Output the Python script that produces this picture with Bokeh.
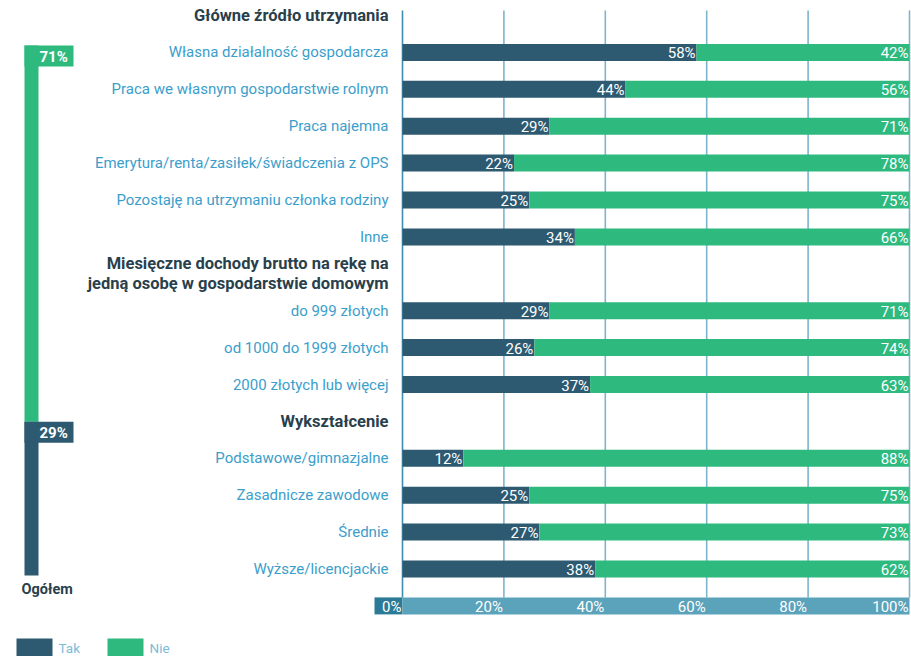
from bokeh.plotting import figure
from bokeh.models import Range1d
from bokeh.core.properties import value
from bokeh.embed import file_html
from bokeh.resources import INLINE

# ---------------- data ----------------
header_1 = "Główne źródło utrzymania"
categories_1 = ["Własna działalność gospodarcza",
                "Praca we własnym gospodarstwie rolnym",
                "Praca najemna",
                "Emerytura/renta/zasiłek/świadczenia z OPS",
                "Pozostaję na utrzymaniu członka rodziny",
                "Inne"]
tak_1 = [58, 44, 29, 22, 25, 34]
nie_1 = [42, 56, 71, 78, 75, 66]

header_2 = ["Miesięczne dochody brutto na rękę na",
            "jedną osobę w gospodarstwie domowym"]
categories_2 = ["do 999 złotych", "od 1000 do 1999 złotych", "2000 złotych lub więcej"]
tak_2 = [29, 26, 37]
nie_2 = [71, 74, 63]

header_3 = "Wykształcenie"
categories_3 = ["Podstawowe/gimnazjalne", "Zasadnicze zawodowe", "Średnie", "Wyższe/licencjackie"]
tak_3 = [12, 25, 27, 38]
nie_3 = [88, 75, 73, 62]

total_label = "Ogółem"
tak_total = 29
nie_total = 71

x_ticks = [0, 20, 40, 60, 80, 100]
x_tick_labels = ["0%", "20%", "40%", "60%", "80%", "100%"]
legend_labels = ["Tak", "Nie"]

# ---------------- style ----------------
DARK = "#2d5a71"
GREEN = "#2eb97e"
LABEL = "#3b9ecb"
HEAD = "#2a3f4c"
GRID = "#7db5cc"
AX_LIGHT = "#5ba2bb"
AX_DARK = "#2b7b96"
FONT = value("Roboto")

W, H = 911, 656
X0, X100 = 402, 909
ppu = (X100 - X0) / 100.0
SLOT0, SLOT = 15.0, 36.9
BAR_H = 17 / SLOT

p = figure(width=W, height=H, output_backend="svg", toolbar_location=None,
           x_range=Range1d(-X0 / ppu, (W - X0) / ppu),
           y_range=Range1d((H - SLOT0) / SLOT, -SLOT0 / SLOT),
           x_axis_type=None, y_axis_type=None, min_border=0)
p.grid.visible = False
p.outline_line_color = None
p.background_fill_color = "white"

# pixel helper ranges
p.extra_x_ranges = {"px": Range1d(0, W)}
OG_BOT, OG_TOP = 575.0, 45.0   # px of 0 and 100 for the total column
upx = 100.0 / (OG_BOT - OG_TOP)
p.extra_y_ranges = {"px": Range1d(H, 0),
                    "og": Range1d(-(H - OG_BOT) * upx, 100 + OG_TOP * upx)}

# ---------------- layout of rows ----------------
groups = [(header_1, categories_1, tak_1, nie_1),
          (header_2, categories_2, tak_2, nie_2),
          (header_3, categories_3, tak_3, nie_3)]
slot = 0
head_slots, head_texts = [], []
row_slots, row_cats, row_tak, row_nie = [], [], [], []
for head, cats, tk, ni in groups:
    head_slots.append(slot)
    head_texts.append(head)
    slot += 1
    for c, t, n in zip(cats, tk, ni):
        row_slots.append(slot)
        row_cats.append(c)
        row_tak.append(t)
        row_nie.append(n)
        slot += 1
axis_slot = slot

# grid lines
grid_top = (10 - SLOT0) / SLOT
grid_bot = axis_slot - BAR_H / 2
p.segment(x0=x_ticks[1:], x1=x_ticks[1:], y0=[grid_top] * 5, y1=[grid_bot] * 5,
          line_color=GRID, line_width=1.6)
p.segment(x0=[0], x1=[0], y0=[grid_top], y1=[grid_bot], line_color="#3f8eb0", line_width=1.6)

# bars
tak_starts = [0] * len(row_tak)
p.hbar(y=row_slots, left=tak_starts, right=row_tak, height=BAR_H, fill_color=DARK, line_color=None)
p.hbar(y=row_slots, left=row_tak, right=[t + n for t, n in zip(row_tak, row_nie)],
       height=BAR_H, fill_color=GREEN, line_color=None)

# value labels
p.text(x=row_tak, y=row_slots, text=[f"{v}%" for v in row_tak], text_align="right",
       text_baseline="middle", text_color="white", text_font=FONT, text_font_size="15px",
       x_offset=-1, y_offset=1)
p.text(x=[t + n for t, n in zip(row_tak, row_nie)], y=row_slots, text=[f"{v}%" for v in row_nie],
       text_align="right", text_baseline="middle", text_color="white", text_font=FONT,
       text_font_size="15px", x_offset=-1, y_offset=1)

# category labels
LAB_X = 388
p.text(x=[LAB_X] * len(row_cats), y=row_slots, text=row_cats, x_range_name="px",
       text_align="right", text_baseline="middle", text_color=LABEL, text_font=FONT,
       text_font_size="15px")

# headers
for hs, ht in zip(head_slots, head_texts):
    if isinstance(ht, list):
        ys = [hs - 0.27, hs + 0.27]
        txt = ht
    else:
        ys = [hs]
        txt = [ht]
    p.text(x=[LAB_X] * len(ys), y=ys, text=txt, x_range_name="px",
           text_align="right", text_baseline="middle", text_color=HEAD, text_font=FONT,
           text_font_size="16.5px", text_font_style="bold")

# axis band
p.hbar(y=[axis_slot], left=[-28 / ppu], right=[0], height=BAR_H, fill_color=AX_DARK, line_color=None)
p.hbar(y=[axis_slot], left=[0], right=[100], height=BAR_H, fill_color=AX_LIGHT, line_color=None)
p.text(x=x_ticks, y=[axis_slot] * len(x_ticks), text=x_tick_labels, text_align="right",
       text_baseline="middle", text_color="white", text_font=FONT, text_font_size="15px",
       x_offset=-1, y_offset=1)

# total column
OG_X, OG_W = 31, 14
p.vbar(x=[OG_X], width=OG_W, bottom=[0], top=[tak_total], x_range_name="px", y_range_name="og",
       fill_color=DARK, line_color=None)
p.vbar(x=[OG_X], width=OG_W, bottom=[tak_total], top=[tak_total + nie_total],
       x_range_name="px", y_range_name="og", fill_color=GREEN, line_color=None)
box_h = 21 * upx
p.quad(left=[24], right=[73], top=[tak_total + nie_total], bottom=[tak_total + nie_total - box_h],
       x_range_name="px", y_range_name="og", fill_color=GREEN, line_color=None)
p.quad(left=[24], right=[73], top=[tak_total], bottom=[tak_total - box_h],
       x_range_name="px", y_range_name="og", fill_color=DARK, line_color=None)
p.text(x=[39, 39], y=[tak_total + nie_total - box_h / 2, tak_total - box_h / 2],
       text=[f"{nie_total}%", f"{tak_total}%"], x_range_name="px", y_range_name="og",
       text_align="left", text_baseline="middle", text_color="white", text_font=FONT,
       text_font_size="15px", text_font_style="bold", y_offset=1)
p.text(x=[21], y=[589], text=[total_label], x_range_name="px", y_range_name="px",
       text_align="left", text_baseline="middle", text_color=HEAD, text_font=FONT,
       text_font_size="14.5px", text_font_style="bold")

# legend
p.quad(left=[16, 107], right=[52, 143], top=[638, 638], bottom=[660, 660],
       x_range_name="px", y_range_name="px", fill_color=[DARK, GREEN], line_color=None)
p.text(x=[58, 149], y=[647, 647], text=legend_labels, x_range_name="px", y_range_name="px",
       text_align="left", text_baseline="middle", text_color="#7bbcd8", text_font=FONT,
       text_font_size="13.5px")

open("out.html", "w").write(file_html(p, INLINE))
